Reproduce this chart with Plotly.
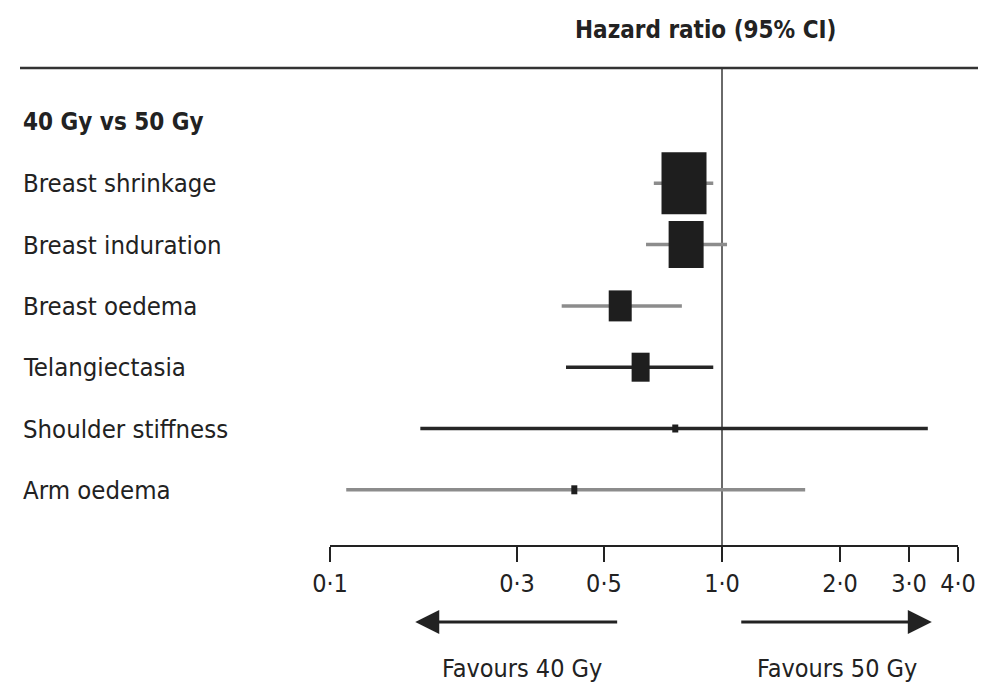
import numpy as np
import plotly.graph_objects as go

# Forest plot: 40 Gy vs 50 Gy, hazard ratios with 95% CI
outcomes = ["Breast shrinkage", "Breast induration", "Breast oedema",
            "Telangiectasia", "Shoulder stiffness", "Arm oedema"]
hr = [0.80, 0.81, 0.55, 0.62, 0.76, 0.42]
ci_low = [0.67, 0.64, 0.39, 0.40, 0.17, 0.11]
ci_high = [0.95, 1.03, 0.79, 0.95, 3.35, 1.63]
# box size (px) proportional to the weight of each estimate
box_w = [45, 35, 23, 18, 6, 6]
box_h = [62, 47, 31, 29, 8, 9]
ci_colors = ["#8c8c8c", "#8c8c8c", "#8c8c8c", "#262626", "#262626", "#8c8c8c"]

tick_vals = [0.1, 0.3, 0.5, 1.0, 2.0, 3.0, 4.0]
tick_text = ["0·1", "0·3", "0·5", "1·0", "2·0", "3·0", "4·0"]

FONT = "Liberation Sans Narrow, DejaVu Sans Condensed, Roboto Condensed, Arial Narrow, sans-serif"
INK = "#222222"

lx = np.log10(hr)
llo = np.log10(ci_low)
lhi = np.log10(ci_high)
rows = np.arange(1, len(outcomes) + 1)

fig = go.Figure()

# confidence interval lines
for i in range(len(outcomes)):
    fig.add_trace(go.Scatter(
        x=[llo[i], lhi[i]], y=[rows[i], rows[i]], mode="lines",
        line=dict(color=ci_colors[i], width=3.5), hoverinfo="skip", showlegend=False))

shapes = []
# reference line at HR = 1
shapes.append(dict(type="line", xref="x", yref="paper", x0=0, x1=0, y0=0, y1=1,
                   line=dict(color="#6a6a6a", width=2), layer="below"))
# rule under the column header
shapes.append(dict(type="line", xref="paper", yref="paper",
                   x0=(20 - 330) / 628, x1=(978 - 330) / 628, y0=1, y1=1,
                   line=dict(color="#333333", width=2.5)))
# point-estimate boxes
for i in range(len(outcomes)):
    shapes.append(dict(type="rect", xref="x", yref="y", xsizemode="pixel", ysizemode="pixel",
                       xanchor=lx[i], yanchor=rows[i],
                       x0=-box_w[i] / 2, x1=box_w[i] / 2, y0=-box_h[i] / 2, y1=box_h[i] / 2,
                       fillcolor="#1e1e1e", line=dict(width=0)))

annotations = []
# header
annotations.append(dict(text="<b>Hazard ratio (95% CI)</b>", xref="paper", yref="paper",
                        x=(705 - 330) / 628, y=(688 - 30 - 143) / 477, showarrow=False,
                        font=dict(family=FONT, size=24, color=INK), xanchor="center", yanchor="middle"))
# group title and outcome labels
annotations.append(dict(text="<b>40 Gy vs 50 Gy</b>", xref="paper", yref="y",
                        x=(21 - 330) / 628, y=0, showarrow=False, xanchor="left", yanchor="middle",
                        font=dict(family=FONT, size=24, color=INK)))
for i, name in enumerate(outcomes):
    annotations.append(dict(text=name, xref="paper", yref="y",
                            x=(21 - 330) / 628, y=rows[i], showarrow=False,
                            xanchor="left", yanchor="middle",
                            font=dict(family=FONT, size=25.5, color=INK)))

# direction arrows under the axis
arrow_y = -(622 - 545) / 477
for tail, tip in [(0.545, 0.165), (1.11, 3.43)]:
    annotations.append(dict(x=np.log10(tip), y=arrow_y, ax=np.log10(tail), ay=0,
                            xref="x", yref="paper", axref="x", ayref="pixel",
                            text="", showarrow=True, arrowhead=2, arrowsize=1.6,
                            arrowwidth=3, arrowcolor=INK))
for label, pos in [("Favours 40 Gy", 0.309), ("Favours 50 Gy", 1.97)]:
    annotations.append(dict(text=label, x=np.log10(pos), y=-(668 - 545) / 477,
                            xref="x", yref="paper", showarrow=False,
                            xanchor="center", yanchor="middle",
                            font=dict(family=FONT, size=25, color=INK)))

fig.update_layout(
    width=1000, height=688,
    margin=dict(l=330, r=42, t=68, b=143),
    paper_bgcolor="white", plot_bgcolor="white",
    shapes=shapes, annotations=annotations,
    xaxis=dict(range=[-1, np.log10(4.0)], tickvals=np.log10(tick_vals), ticktext=tick_text,
               showgrid=False, zeroline=False, showline=True, linecolor=INK, linewidth=2,
               ticks="outside", ticklen=15, tickwidth=2, tickcolor=INK,
               tickfont=dict(family=FONT, size=25, color=INK), fixedrange=True),
    yaxis=dict(range=[(545 - 122) / 61.3, (68 - 122) / 61.3], visible=False,
               showgrid=False, zeroline=False, fixedrange=True),
    showlegend=False,
)

fig.write_html("out.html")
